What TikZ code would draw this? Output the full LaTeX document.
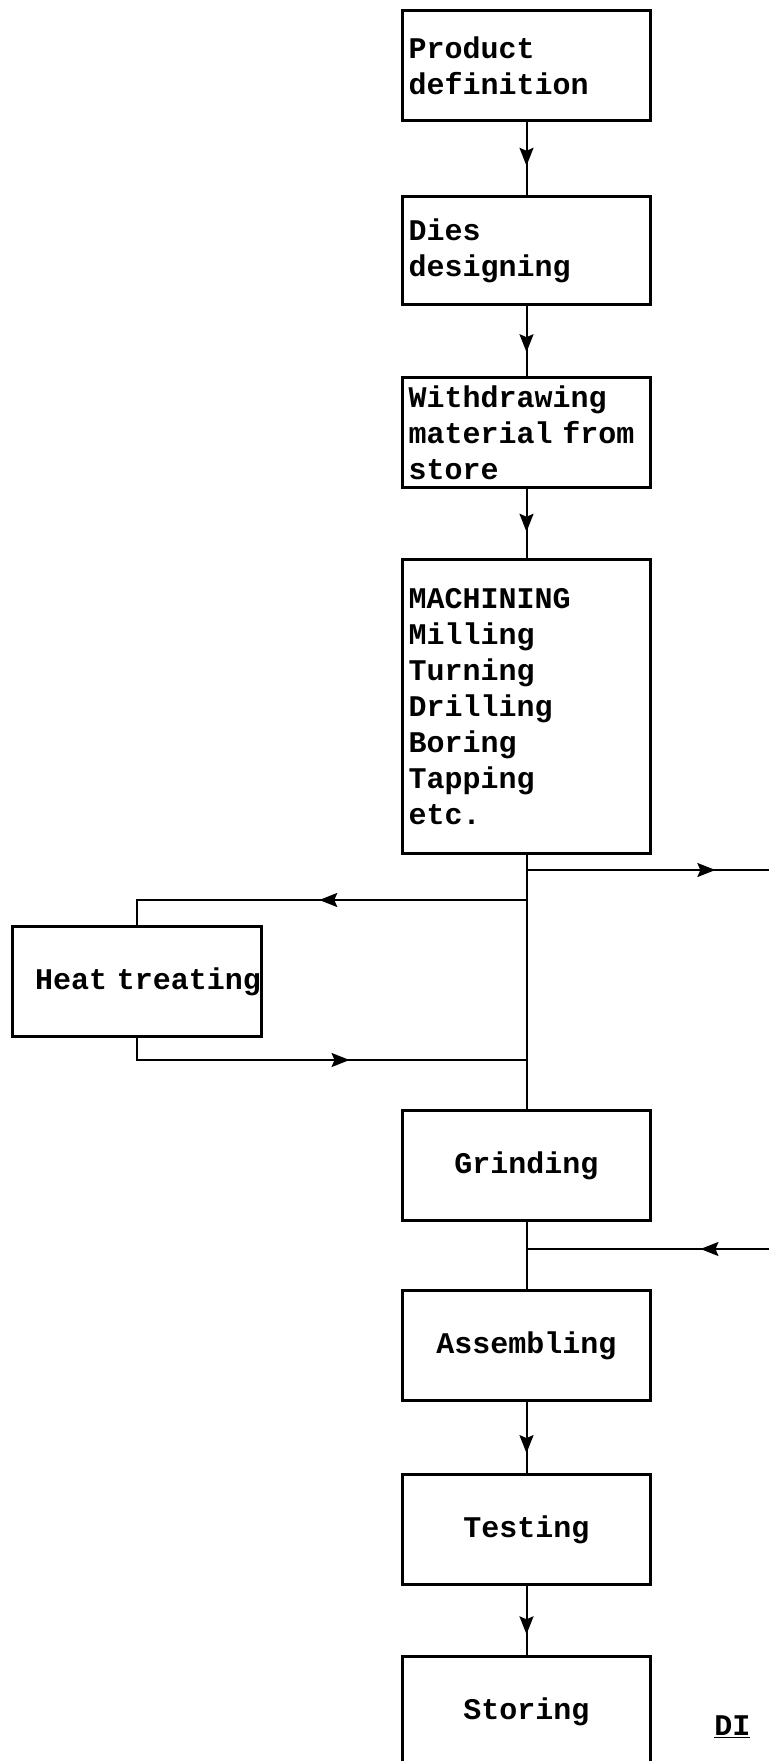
\documentclass[tikz,border=0pt]{standalone}
\usepackage{fontspec}
\newfontfamily\typewr{Liberation Mono}
\usetikzlibrary{arrows.meta,decorations.markings}

\tikzset{
  stepbox/.style={draw,line width=1.5pt,anchor=north west,minimum width=124pt,
    inner xsep=3pt,text width=118pt,align=left,
    font=\typewr\bfseries\fontsize{15pt}{18pt}\selectfont},
  flow/.style={line width=1pt},
  midarrow/.style={flow,postaction={decorate},decoration={markings,
    mark=at position #1 with {\arrow{Stealth[length=9pt,width=7pt,inset=1.5pt]}}}}
}

\begin{document}
\begin{tikzpicture}[x=0.5pt,y=-0.5pt]
  \useasboundingbox (0,0) rectangle (769,1761);
  % planning and preparation
  \node[stepbox,minimum height=55pt] (prod) at (401,9) {Product\\definition};
  \node[stepbox,minimum height=54pt] (dies) at (401,195) {Dies\\designing};
  \node[stepbox,minimum height=55pt] (withd) at (401,376) {Withdrawing\\material from\\store};
  \node[stepbox,minimum height=147pt] (mach) at (401,558)
    {MACHINING\\Milling\\Turning\\Drilling\\Boring\\Tapping\\etc.\\[6pt]};
  % finishing
  \foreach \name/\y/\txt in {grind/1109/Grinding,assem/1289/Assembling,
                             test/1473/Testing,stor/1655/Storing}
  {
    \node[stepbox,align=center,minimum height=55pt] (\name) at (401,\y) {\txt};
  }
  \node[stepbox,minimum width=124.5pt,minimum height=55pt] (heat) at (11,925)
    {\mbox{\hspace*{8pt}Heat treating}};

  \coordinate (splitA) at (mach.south |- 0,870);
  \coordinate (splitB) at (mach.south |- 0,900);
  \coordinate (splitC) at (mach.south |- 0,1060);
  \coordinate (joinD) at (grind.south |- 0,1249);
  \coordinate (outA) at (775,870);
  \coordinate (inB) at (775,1249);

  \draw[midarrow=0.6] (prod) -- (dies);
  \draw[midarrow=0.66] (dies) -- (withd);
  \draw[midarrow=0.62] (withd) -- (mach);
  \draw[flow] (mach) -- (grind);
  \draw[midarrow=0.76] (splitA) -- (outA);
  \draw[midarrow=0.5] (splitB) -| (heat);
  \draw[midarrow=0.57] (heat) |- (splitC);
  \draw[flow] (grind) -- (assem);
  \draw[midarrow=0.3] (inB) -- (joinD);
  \draw[midarrow=0.72] (assem) -- (test);
  \draw[midarrow=0.7] (test) -- (stor);

  \node[font=\typewr\bfseries\fontsize{15pt}{18pt}\selectfont,anchor=base west,inner sep=0pt]
    (diag) at (714,1735) {\underline{DI}};
\end{tikzpicture}
\end{document}
